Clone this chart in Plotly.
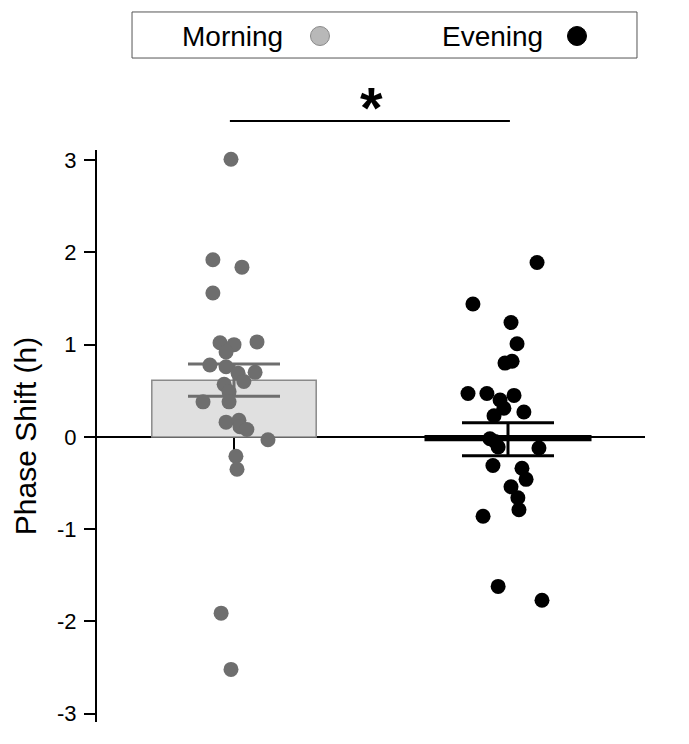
import plotly.graph_objects as go

# ---------------- data ----------------
groups = ["Morning", "Evening"]
group_pos = [1, 2]
group_means = [0.615, -0.025]
group_sem = [0.175, 0.178]

morning_values = [3.01, 1.92, 1.84, 1.56, 1.02, 1.00, 1.03, 0.92, 0.78, 0.76, 0.69, 0.70, 0.60,
                  0.57, 0.49, 0.38, 0.38, 0.16, 0.18, 0.11, 0.08, -0.03, -0.21, -0.35, -1.91, -2.52]
morning_jitter = [-0.011, -0.077, 0.029, -0.077, -0.051, 0.000, 0.084, -0.029, -0.088, -0.029,
                  0.015, 0.077, 0.036, -0.036, -0.018, -0.113, -0.018, -0.029, 0.018, 0.022,
                  0.047, 0.124, 0.007, 0.011, -0.047, -0.011]

evening_values = [1.89, 1.44, 1.24, 1.01, 0.80, 0.82, 0.47, 0.47, 0.40, 0.45, 0.31, 0.27, 0.23,
                  -0.02, -0.05, -0.11, -0.12, -0.31, -0.34, -0.46, -0.54, -0.66, -0.79, -0.86,
                  -1.62, -1.77]
evening_jitter = [0.106, -0.128, 0.011, 0.033, -0.011, 0.015, -0.146, -0.077, -0.029, 0.022,
                  -0.015, 0.058, -0.051, -0.066, -0.047, -0.036, 0.113, -0.055, 0.051, 0.066,
                  0.011, 0.036, 0.040, -0.091, -0.036, 0.124]

y_tickvals = [-3, -2, -1, 0, 1, 2, 3]
y_ticktext = ["-3", "-2", "-1", "0", "1", "2", "3"]
y_range = [-3.09, 3.11]
x_range = [0.5, 2.5]

FONT = "Liberation Sans, Arial, Helvetica, sans-serif"
MORNING_DOT = "#6e6e6e"

fig = go.Figure()

# Morning bar
fig.add_trace(go.Bar(
    x=[group_pos[0]], y=[group_means[0]], width=0.6,
    marker=dict(color="#e0e0e0", line=dict(color="#8a8a8a", width=1.5)),
    error_y=dict(type="data", array=[group_sem[0]], color=MORNING_DOT, thickness=3, width=46),
    showlegend=False, hoverinfo="skip"))

# Evening bar (thin, appears as thick mean line)
fig.add_trace(go.Bar(
    x=[group_pos[1]], y=[group_means[1]], width=0.595,
    marker=dict(color="black", line=dict(color="black", width=4)),
    error_y=dict(type="data", array=[group_sem[1]], color="black", thickness=3, width=46),
    showlegend=False, hoverinfo="skip"))

fig.add_trace(go.Scatter(
    x=[group_pos[0] + j for j in morning_jitter], y=morning_values, mode="markers",
    marker=dict(size=15, color=MORNING_DOT), showlegend=False, hoverinfo="y"))

fig.add_trace(go.Scatter(
    x=[group_pos[1] + j for j in evening_jitter], y=evening_values, mode="markers",
    marker=dict(size=15, color="black"), showlegend=False, hoverinfo="y"))

zero_pos = (0 - y_range[0]) / (y_range[1] - y_range[0])

fig.update_layout(
    width=681, height=736,
    margin=dict(l=89, r=44, t=142, b=22),
    paper_bgcolor="white", plot_bgcolor="white",
    barmode="overlay",
    font=dict(family=FONT, color="black"),
    xaxis=dict(range=x_range, showgrid=False, zeroline=False,
               anchor="free", position=zero_pos,
               showline=True, linecolor="black", linewidth=2,
               tickvals=group_pos, ticks="outside", ticklen=12, tickwidth=2,
               tickcolor="black", showticklabels=False, layer="below traces"),
    yaxis=dict(range=y_range, showgrid=False, zeroline=False,
               showline=True, linecolor="black", linewidth=2,
               tickvals=y_tickvals, ticktext=y_ticktext,
               ticks="outside", ticklen=11, tickwidth=1.5, tickcolor="black",
               tickfont=dict(size=22, family=FONT), ticklabelstandoff=3,
               title=dict(text="Phase Shift (h)", font=dict(size=30, family=FONT), standoff=12)),
)

# significance bar
fig.add_shape(type="line", xref="x", yref="paper", x0=0.985, x1=2.007, y0=1.0507, y1=1.0507,
              line=dict(color="black", width=2))
fig.add_annotation(text="<b>*</b>", xref="x", yref="paper", x=1.5, y=1.091,
                   showarrow=False, font=dict(size=58, family=FONT), yanchor="middle", yshift=-10)

# legend box
fig.add_shape(type="rect", xref="paper", yref="paper", x0=0.0639, x1=0.9854, y0=1.1608, y1=1.2413,
              line=dict(color="#555555", width=1), fillcolor="white")
fig.add_annotation(text=groups[0], xref="paper", yref="paper", x=0.1515, y=1.1993,
                   xanchor="left", yanchor="middle", showarrow=False, font=dict(size=28, family=FONT))
fig.add_annotation(text=groups[1], xref="paper", yref="paper", x=0.6259, y=1.1993,
                   xanchor="left", yanchor="middle", showarrow=False, font=dict(size=28, family=FONT))
fig.add_shape(type="circle", xref="paper", yref="paper", xsizemode="pixel", ysizemode="pixel",
              xanchor=0.4069, yanchor=1.1993, x0=-9.5, x1=9.5, y0=-9.5, y1=9.5,
              fillcolor="#b8b8b8", line=dict(color="#8a8a8a", width=1))
fig.add_shape(type="circle", xref="paper", yref="paper", xsizemode="pixel", ysizemode="pixel",
              xanchor=0.8759, yanchor=1.1993, x0=-9.5, x1=9.5, y0=-9.5, y1=9.5,
              fillcolor="black", line=dict(color="black", width=1))

fig.write_html("out.html")
